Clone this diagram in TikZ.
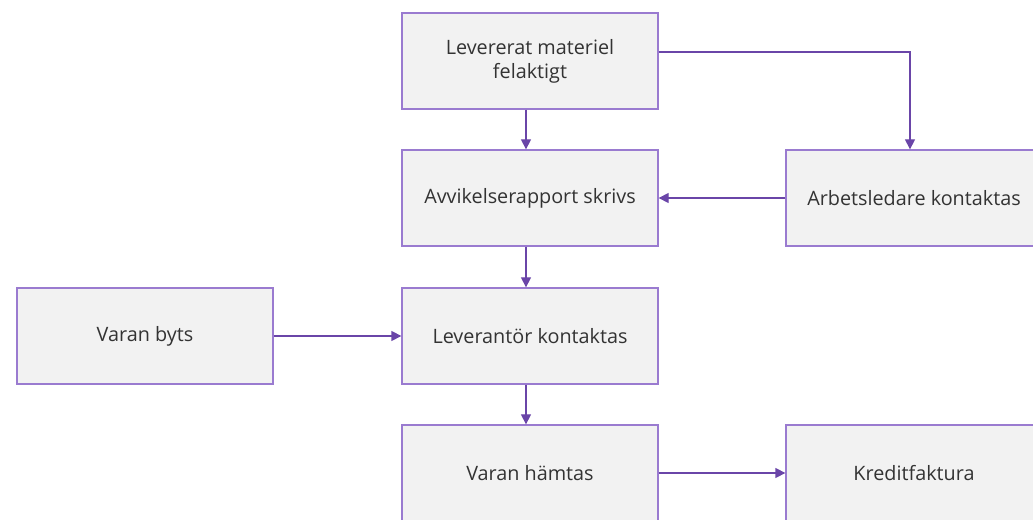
\documentclass[tikz,border=0pt]{standalone}
\usepackage{fontspec}
\setmainfont{Open Sans}
\usetikzlibrary{arrows.meta,calc}
\definecolor{boxfill}{HTML}{F2F2F2}
\definecolor{boxline}{HTML}{9A7BD0}
\definecolor{flow}{HTML}{6A45A8}
\definecolor{txt}{HTML}{333333}
\begin{document}
\begin{tikzpicture}[x=1bp,y=-1bp,
  stepbox/.style={draw=boxline,line width=1.3bp,fill=boxfill,minimum width=256bp,minimum height=96bp,
    inner sep=0pt,align=center,text=txt,font=\fontsize{19.8bp}{24bp}\selectfont},
  flowline/.style={draw=flow,line width=1.3bp,-{Triangle[length=10bp,width=10bp]}}]
\useasboundingbox (0,0) rectangle (1033,520);
\node[stepbox] (lev) at (530,61) {Levererat materiel\\felaktigt};
\node[stepbox] (avv) at (530,198) {Avvikelserapport skrivs};
\node[stepbox] (arb) at (914,198) {Arbetsledare kontaktas};
\node[stepbox] (byt) at (145,336) {Varan byts};
\node[stepbox] (kon) at (530,336) {Leverantör kontaktas};
\node[stepbox] (hmt) at (530,473) {Varan hämtas};
\node[stepbox] (kre) at (914,473) {Kreditfaktura};
\draw[flowline] ([xshift=-4bp]lev.south) -- ([xshift=-4bp]avv.north);
\draw[flowline] ([yshift=9bp]lev.east) -| ([xshift=-4bp]arb.north);
\draw[flowline] (arb.west) -- (avv.east);
\draw[flowline] ([xshift=-4bp]avv.south) -- ([xshift=-4bp]kon.north);
\draw[flowline] (byt.east) -- (kon.west);
\draw[flowline] ([xshift=-4bp]kon.south) -- ([xshift=-4bp]hmt.north);
\draw[flowline] (hmt.east) -- (kre.west);
\end{tikzpicture}
\end{document}
